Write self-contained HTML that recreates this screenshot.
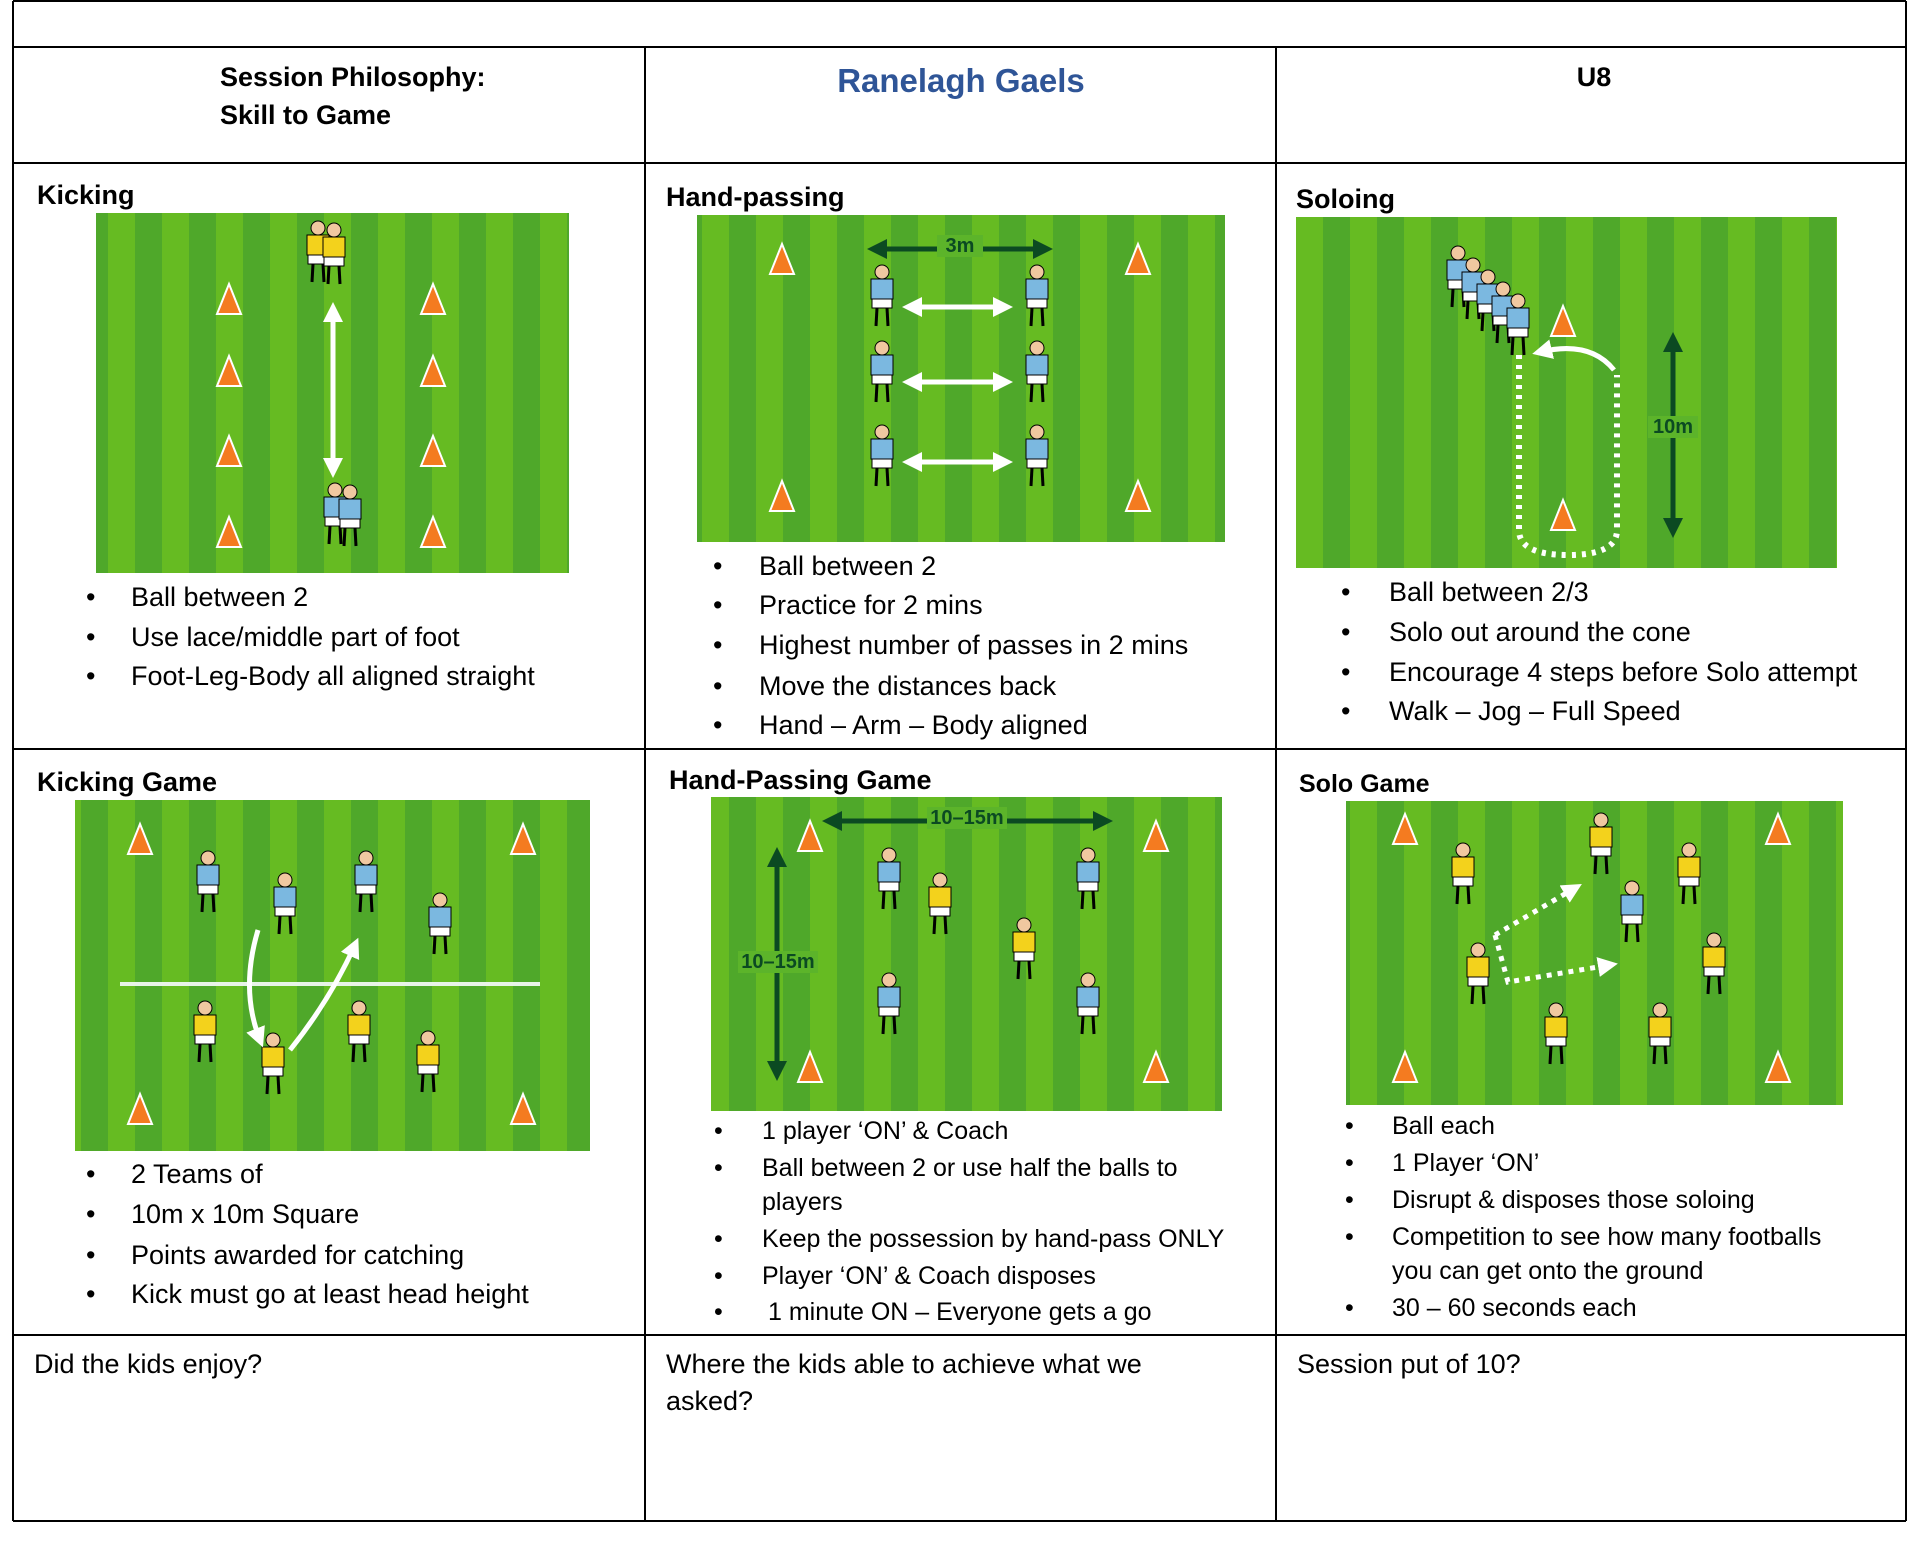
<!DOCTYPE html>
<html><head><meta charset="utf-8"><style>
html,body{margin:0;padding:0;background:#fff;}
svg{display:block;}
text{font-family:"Liberation Sans",sans-serif;fill:#000;}
.b{font-weight:bold;}
</style></head><body>
<svg id="s" width="1920" height="1567" xmlns="http://www.w3.org/2000/svg">
<defs>
<pattern id="st" width="54" height="10" patternUnits="userSpaceOnUse">
<rect width="27" height="10" fill="#66bb22"/><rect x="27" width="27" height="10" fill="#4fa82a"/>
</pattern>
<marker id="aw" viewBox="0 0 10 10" refX="6" refY="5" markerWidth="4" markerHeight="4" orient="auto-start-reverse"><path d="M0 0 L10 5 L0 10z" fill="#fff"/></marker>
<marker id="ag" viewBox="0 0 10 10" refX="6" refY="5" markerWidth="4" markerHeight="4" orient="auto-start-reverse"><path d="M0 0 L10 5 L0 10z" fill="#0b4a22"/></marker>
</defs>
<g stroke="#000" stroke-width="2" fill="none">
<line x1="13" y1="1" x2="1906" y2="1"/>
<line x1="13" y1="1" x2="13" y2="1521"/>
<line x1="1906" y1="1" x2="1906" y2="1521"/>
<line x1="13" y1="47" x2="1906" y2="47"/>
<line x1="13" y1="163" x2="1906" y2="163"/>
<line x1="13" y1="749" x2="1906" y2="749"/>
<line x1="13" y1="1335" x2="1906" y2="1335"/>
<line x1="13" y1="1521" x2="1906" y2="1521"/>
<line x1="645" y1="47" x2="645" y2="1521"/>
<line x1="1276" y1="47" x2="1276" y2="1521"/>
</g>
<g id="fields">
<rect x="96" y="213" width="473" height="360" fill="url(#st)"/>
<rect x="697" y="215" width="528" height="327" fill="url(#st)"/>
<rect x="1296" y="217" width="541" height="351" fill="url(#st)"/>
<rect x="75" y="800" width="515" height="351" fill="url(#st)"/>
<rect x="711" y="797" width="511" height="314" fill="url(#st)"/>
<rect x="1346" y="801" width="497" height="304" fill="url(#st)"/>
</g>
<g id="deco"></g>
<text x="220" y="86" font-size="27" class="b">Session Philosophy:</text>
<text x="220" y="124" font-size="27" class="b">Skill to Game</text>
<text x="961" y="92" font-size="33" class="b" text-anchor="middle" style="fill:#2f5597">Ranelagh Gaels</text>
<text x="1594" y="86" font-size="27" class="b" text-anchor="middle">U8</text>

<g font-size="27" class="b">
<text x="37" y="204">Kicking</text>
<text x="666" y="206">Hand-passing</text>
<text x="1296" y="208">Soloing</text>
<text x="37" y="791">Kicking Game</text>
<text x="669" y="789">Hand-Passing Game</text>
<text x="1299" y="792" font-size="25">Solo Game</text>
</g>

<g font-size="27">
<text x="86" y="606">•</text><text x="131" y="606">Ball between 2</text>
<text x="86" y="646">•</text><text x="131" y="646">Use lace/middle part of foot</text>
<text x="86" y="685">•</text><text x="131" y="685">Foot-Leg-Body all aligned straight</text>

<text x="713" y="575">•</text><text x="759" y="575">Ball between 2</text>
<text x="713" y="614">•</text><text x="759" y="614">Practice for 2 mins</text>
<text x="713" y="654">•</text><text x="759" y="654">Highest number of passes in 2 mins</text>
<text x="713" y="695">•</text><text x="759" y="695">Move the distances back</text>
<text x="713" y="734">•</text><text x="759" y="734">Hand – Arm – Body aligned</text>

<text x="1341" y="601">•</text><text x="1389" y="601">Ball between 2/3</text>
<text x="1341" y="641">•</text><text x="1389" y="641">Solo out around the cone</text>
<text x="1341" y="681">•</text><text x="1389" y="681">Encourage 4 steps before Solo attempt</text>
<text x="1341" y="720">•</text><text x="1389" y="720">Walk – Jog – Full Speed</text>

<text x="86" y="1183">•</text><text x="131" y="1183">2 Teams of</text>
<text x="86" y="1223">•</text><text x="131" y="1223">10m x 10m Square</text>
<text x="86" y="1264">•</text><text x="131" y="1264">Points awarded for catching</text>
<text x="86" y="1303">•</text><text x="131" y="1303">Kick must go at least head height</text>
</g>
<g font-size="25">
<text x="714" y="1139">•</text><text x="762" y="1139">1 player ‘ON’ &amp; Coach</text>
<text x="714" y="1176">•</text><text x="762" y="1176">Ball between 2 or use half the balls to</text>
<text x="762" y="1210">players</text>
<text x="714" y="1247">•</text><text x="762" y="1247">Keep the possession by hand-pass ONLY</text>
<text x="714" y="1284">•</text><text x="762" y="1284">Player ‘ON’ &amp; Coach disposes</text>
<text x="714" y="1320">•</text><text x="768" y="1320">1 minute ON – Everyone gets a go</text>

<text x="1345" y="1134">•</text><text x="1392" y="1134">Ball each</text>
<text x="1345" y="1171">•</text><text x="1392" y="1171">1 Player ‘ON’</text>
<text x="1345" y="1208">•</text><text x="1392" y="1208">Disrupt &amp; disposes those soloing</text>
<text x="1345" y="1245">•</text><text x="1392" y="1245">Competition to see how many footballs</text>
<text x="1392" y="1279">you can get onto the ground</text>
<text x="1345" y="1316">•</text><text x="1392" y="1316">30 – 60 seconds each</text>
</g>
<g font-size="27">
<text x="34" y="1373">Did the kids enjoy?</text>
<text x="666" y="1373">Where the kids able to achieve what we</text>
<text x="666" y="1410">asked?</text>
<text x="1297" y="1373">Session put of 10?</text>
</g>
<g id="lab"></g>
</svg>
<script>
var g=document.getElementById('deco'),h='';
function cone(x,y){h+='<polygon points="'+(x-12)+','+(y+14)+' '+x+','+(y-16)+' '+(x+12)+','+(y+14)+'" fill="#f47b20" stroke="#fff" stroke-width="2"/>';}
function pl(x,y,c){h+='<circle cx="'+x+'" cy="'+(y-30)+'" r="7" fill="#f0c8a0" stroke="#000"/><rect x="'+(x-11)+'" y="'+(y-23)+'" width="22" height="20" fill="'+c+'" stroke="#000"/><rect x="'+(x-10)+'" y="'+(y-3)+'" width="20" height="9" fill="#fff" stroke="#000"/><line x1="'+(x-5)+'" y1="'+(y+6)+'" x2="'+(x-6)+'" y2="'+(y+24)+'" stroke="#000" stroke-width="3"/><line x1="'+(x+5)+'" y1="'+(y+6)+'" x2="'+(x+6)+'" y2="'+(y+24)+'" stroke="#000" stroke-width="3"/>';}
function ln(x1,y1,x2,y2,c,m,both){h+='<line x1="'+x1+'" y1="'+y1+'" x2="'+x2+'" y2="'+y2+'" stroke="'+c+'" stroke-width="5" marker-end="url(#'+m+')"'+(both?' marker-start="url(#'+m+')"':'')+'/>';}
function lab(x,y,t,w){h+='<rect x="'+(x-w/2)+'" y="'+(y-14)+'" width="'+w+'" height="22" fill="#5cb42a"/><text x="'+x+'" y="'+(y+3)+'" font-size="20" font-weight="bold" text-anchor="middle" style="fill:#0b4a22">'+t+'</text>';}
var Y='#f3d21c',B='#7bb8e0';
[[229,300],[229,372],[229,452],[229,533],[433,300],[433,372],[433,452],[433,533]].forEach(function(p){cone(p[0],p[1]);});
pl(318,258,Y);pl(334,260,Y);pl(335,520,B);pl(350,522,B);
ln(333,310,333,470,'#fff','aw',1);
[[782,260],[1138,260],[782,497],[1138,497]].forEach(function(p){cone(p[0],p[1]);});
[[882,302],[882,378],[882,462],[1037,302],[1037,378],[1037,462]].forEach(function(p){pl(p[0],p[1],B);});
ln(910,307,1005,307,'#fff','aw',1);ln(910,382,1005,382,'#fff','aw',1);ln(910,462,1005,462,'#fff','aw',1);
ln(875,249,1045,249,'#0b4a22','ag',1);lab(960,249,'3m',46);
[1458,1473,1488,1503,1518].forEach(function(x,i){pl(x,283+i*12,B);});
cone(1563,322);cone(1563,516);
h+='<path d="M1519 355 L1519 530 Q1519 555 1568 555 Q1617 555 1617 530 L1617 375" fill="none" stroke="#fff" stroke-width="6" stroke-dasharray="4 6"/>';
h+='<path d="M1614 370 Q1590 340 1540 352" fill="none" stroke="#fff" stroke-width="5" marker-end="url(#aw)"/>';
ln(1673,340,1673,530,'#0b4a22','ag',1);lab(1673,430,'10m',50);
[[140,840],[523,840],[140,1110],[523,1110]].forEach(function(p){cone(p[0],p[1]);});
pl(208,888,B);pl(285,910,B);pl(366,888,B);pl(440,930,B);pl(205,1038,Y);pl(273,1070,Y);pl(359,1038,Y);pl(428,1068,Y);
h+='<line x1="120" y1="984" x2="540" y2="984" stroke="#e8f4e8" stroke-width="4"/>';
h+='<path d="M258 930 Q240 990 260 1040" fill="none" stroke="#fff" stroke-width="5" marker-end="url(#aw)"/>';
h+='<path d="M290 1050 Q330 1000 355 945" fill="none" stroke="#fff" stroke-width="5" marker-end="url(#aw)"/>';
[[810,837],[1156,837],[810,1068],[1156,1068]].forEach(function(p){cone(p[0],p[1]);});
pl(889,885,B);pl(940,910,Y);pl(1088,885,B);pl(1024,955,Y);pl(889,1010,B);pl(1088,1010,B);
ln(830,821,1105,821,'#0b4a22','ag',1);lab(967,821,'10–15m',80);
ln(777,855,777,1073,'#0b4a22','ag',1);lab(778,965,'10–15m',80);
[[1405,830],[1778,830],[1405,1068],[1778,1068]].forEach(function(p){cone(p[0],p[1]);});
pl(1463,880,Y);pl(1601,850,Y);pl(1689,880,Y);pl(1632,918,B);pl(1714,970,Y);pl(1478,980,Y);pl(1556,1040,Y);pl(1660,1040,Y);
h+='<path d="M1495 935 L1575 888" fill="none" stroke="#fff" stroke-width="5" stroke-dasharray="5 6" marker-end="url(#aw)"/>';
h+='<path d="M1495 935 L1508 982 L1610 965" fill="none" stroke="#fff" stroke-width="5" stroke-dasharray="5 6" marker-end="url(#aw)"/>';
g.innerHTML=h;
</script>
</body></html>
